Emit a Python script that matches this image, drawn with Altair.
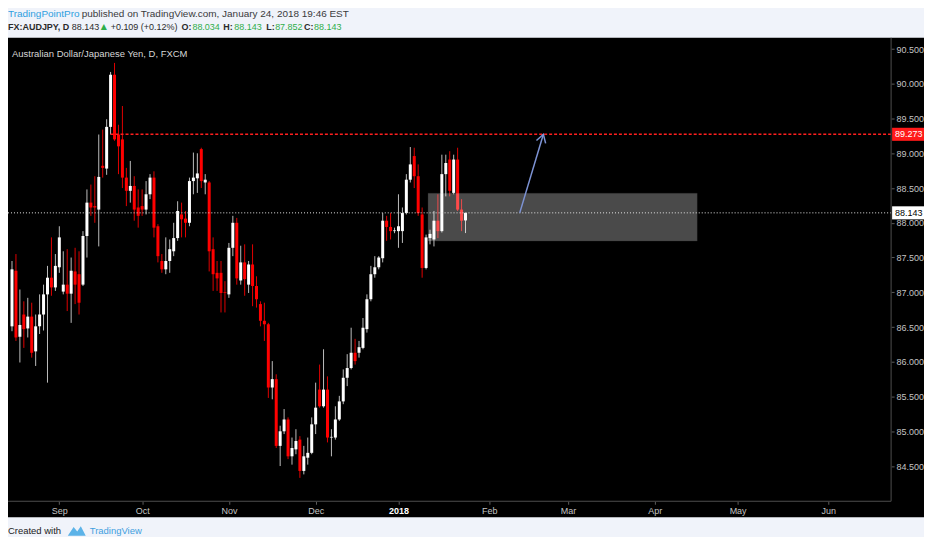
import altair as alt
import pandas as pd

# ---------------- data (AUDJPY daily) ----------------
opens = [86.51, 87.31, 86.36, 86.68, 86.48, 86.65, 86.15, 86.51, 86.68, 86.97,
         87.21, 87.07, 87.36, 87.01, 87.11, 86.98, 87.30, 87.26, 87.11, 87.81,
         88.29, 88.24, 88.19, 88.82, 88.78, 89.38, 90.13, 89.27, 89.20, 88.65,
         88.46, 88.53, 88.22, 88.24, 88.19, 88.41, 88.65, 87.95, 87.45, 87.33,
         87.45, 87.59, 87.78, 88.12, 88.06, 88.00, 88.60, 88.64, 89.06, 88.58,
         88.58, 87.62, 87.28, 87.28, 87.00, 86.97, 87.64, 88.00, 87.17, 87.43,
         87.11, 87.40, 87.09, 86.83, 86.59, 86.54, 85.63, 85.75, 84.79, 85.00,
         85.17, 84.64, 84.74, 84.88, 84.43, 84.62, 84.69, 85.10, 85.60, 85.36,
         85.60, 84.91, 84.91, 85.17, 85.43, 85.77, 85.91, 86.13, 86.13, 86.20,
         86.47, 86.90, 87.26, 87.36, 87.49, 88.03, 87.94, 87.88, 87.88, 87.88,
         88.14, 88.62, 88.96, 88.67, 88.12, 87.35, 87.78, 87.76, 88.03, 87.88,
         88.70, 88.91, 88.43, 88.91, 88.19, 88.034]
highs = [87.45, 87.55, 87.04, 86.87, 86.92, 86.85, 86.68, 86.97, 87.11, 87.38,
         87.79, 87.55, 87.95, 87.59, 87.62, 87.50, 87.64, 87.59, 87.88, 88.48,
         88.55, 88.67, 89.27, 89.34, 89.49, 90.17, 90.30, 89.41, 89.68, 88.79,
         88.89, 88.67, 88.48, 88.48, 88.60, 88.70, 88.74, 87.98, 87.55, 87.79,
         87.76, 88.00, 88.31, 88.29, 88.17, 88.65, 89.01, 89.00, 89.08, 88.70,
         88.60, 87.79, 87.45, 87.45, 87.16, 87.71, 88.10, 88.07, 87.67, 87.69,
         87.45, 87.69, 87.23, 86.87, 86.85, 86.56, 86.01, 85.82, 85.08, 85.32,
         85.20, 84.91, 85.03, 84.93, 84.79, 84.91, 85.20, 85.70, 85.96, 86.18,
         85.79, 85.03, 85.36, 85.51, 85.89, 86.11, 86.49, 86.33, 86.30, 86.63,
         86.97, 87.38, 87.52, 87.52, 88.14, 88.10, 88.14, 87.93, 88.41, 88.22,
         88.70, 89.09, 89.08, 88.84, 88.22, 87.83, 87.90, 88.17, 88.41, 88.98,
         88.98, 89.03, 88.98, 89.08, 88.34, 88.143]
lows = [86.44, 86.30, 85.99, 86.20, 86.35, 86.06, 85.94, 86.40, 86.45, 85.70,
        86.95, 87.02, 87.28, 86.97, 86.73, 86.56, 86.83, 86.68, 87.09, 87.50,
        88.10, 88.00, 87.66, 88.65, 88.69, 89.27, 89.18, 88.70, 88.50, 88.24,
        88.29, 88.03, 87.93, 88.10, 88.12, 88.34, 87.79, 87.43, 87.28, 87.26,
        87.28, 87.52, 87.74, 87.79, 87.79, 87.95, 88.41, 88.43, 88.50, 88.41,
        87.30, 87.02, 87.02, 86.71, 86.71, 86.92, 87.52, 87.11, 87.11, 86.95,
        86.99, 86.80, 86.78, 86.51, 86.30, 85.48, 85.46, 84.76, 84.50, 84.96,
        84.60, 84.52, 84.67, 84.33, 84.38, 84.52, 84.67, 84.96, 85.34, 85.34,
        84.84, 84.64, 84.88, 85.15, 85.39, 85.65, 85.89, 85.96, 86.06, 86.18,
        86.42, 86.87, 87.21, 87.33, 87.43, 87.74, 87.76, 87.85, 87.64, 87.71,
        88.12, 88.58, 88.50, 88.10, 87.21, 87.33, 87.69, 87.66, 87.78, 87.86,
        88.38, 88.38, 88.41, 88.17, 87.88, 87.852]
closes = [87.33, 86.35, 86.53, 86.47, 86.65, 86.13, 86.51, 86.68, 86.97, 87.21,
          87.07, 87.38, 87.79, 87.11, 86.98, 87.31, 87.11, 86.85, 87.81, 88.29,
          88.22, 88.22, 88.66, 88.79, 89.38, 90.13, 89.20, 89.10, 88.65, 88.46,
          88.53, 88.19, 88.10, 88.19, 88.41, 88.65, 87.93, 87.52, 87.33, 87.45,
          87.62, 87.78, 88.17, 88.05, 88.00, 88.60, 88.65, 88.71, 88.60, 88.62,
          87.59, 87.26, 87.20, 86.99, 86.99, 87.64, 88.00, 87.20, 87.43, 87.19,
          87.40, 87.09, 86.90, 86.59, 86.54, 85.63, 85.75, 84.79, 85.00, 85.17,
          84.64, 84.76, 84.86, 84.43, 84.64, 84.69, 85.10, 85.34, 85.36, 85.60,
          84.91, 84.92, 85.17, 85.43, 85.77, 85.91, 86.13, 86.01, 86.21, 86.49,
          86.90, 87.26, 87.36, 87.50, 88.03, 87.94, 87.88, 87.89, 87.95, 88.14,
          88.62, 88.84, 88.67, 88.14, 87.35, 87.79, 87.84, 88.03, 87.88, 88.70,
          88.86, 88.46, 88.91, 88.19, 88.03, 88.143]

# bar index of the first trading day of each month, and its label
month_ticks = [12, 33, 55, 77, 98, 121, 141, 163, 184, 207]
month_labels = ["Sep", "Oct", "Nov", "Dec", "2018", "Feb", "Mar", "Apr", "May", "Jun"]
price_ticks = [84.5, 85.0, 85.5, 86.0, 86.5, 87.0, 87.5, 88.0, 88.5, 89.0, 89.5, 90.0, 90.5]

last_price = 88.143
target_price = 89.273
target_start = 25
zone_x = [105.5, 173.75]
zone_y = [87.737, 88.425]
arrow_x = [128.75, 134.75]
arrow_y = [88.143, 89.273]

# ---------------- styling ----------------
FONT = "Liberation Sans"
W, H = 919, 481
AXIS_X_PX = 886   # right price-scale frame line (view px)
AXIS_Y_PX = 465   # bottom time-scale frame line (view px)

df = pd.DataFrame({"i": list(range(len(opens))), "open": opens, "high": highs,
                   "low": lows, "close": closes})
df["dir"] = ["up" if c >= o else "down" for o, c in zip(opens, closes)]

xs = alt.Scale(domain=[0.25, 230.0], nice=False, zero=False)
ys = alt.Scale(domain=[83.764, 90.662], nice=False, zero=False)

label_test = " : ".join(f"datum.value == {t} ? '{l}'" for t, l in zip(month_ticks, month_labels)) + " : ''"
year_tick = month_ticks[month_labels.index("2018")]

x_axis = alt.Axis(orient="bottom", offset=-(H - AXIS_Y_PX), values=month_ticks,
                  labelExpr=label_test, domain=False, grid=False,
                  tickSize=3, tickColor="#5c5c5c", labelFont=FONT, labelFontSize=9,
                  labelColor={"condition": {"test": f"datum.value == {year_tick}", "value": "#ffffff"},
                              "value": "#c4c4c4"},
                  labelFontWeight={"condition": {"test": f"datum.value == {year_tick}", "value": "bold"},
                                   "value": "normal"},
                  labelPadding=2, labelOverlap=False, labelFlush=False, title=None)
y_axis = alt.Axis(orient="right", offset=-(W - AXIS_X_PX), values=price_ticks, format=".3f",
                  domain=False, grid=False, tickSize=3, tickColor="#5c5c5c",
                  labelFont=FONT, labelFontSize=9, labelColor="#c4c4c4",
                  labelPadding=2, labelOverlap=False, labelFlush=False, title=None)

base = alt.Chart(df)

wicks = base.mark_rule(strokeWidth=1).encode(
    x=alt.X("i:Q", scale=xs, axis=x_axis),
    y=alt.Y("low:Q", scale=ys, axis=y_axis),
    y2="high:Q",
    stroke=alt.Stroke("dir:N", scale=alt.Scale(domain=["up", "down"],
                                               range=["#bdbdbd", "#e00000"]), legend=None),
)
bodies = base.mark_bar(size=3).encode(
    x=alt.X("i:Q", scale=xs),
    y=alt.Y("open:Q", scale=ys),
    y2="close:Q",
    color=alt.Color("dir:N", scale=alt.Scale(domain=["up", "down"],
                                             range=["#ffffff", "#ff0000"]), legend=None),
)

zone = alt.Chart(pd.DataFrame({"x1": [zone_x[0]], "x2": [zone_x[1]],
                               "y1": [zone_y[0]], "y2": [zone_y[1]]})).mark_rect(
    fill="#ffffff", opacity=0.29, stroke="#9a9a9a", strokeOpacity=0.3, strokeWidth=1
).encode(
    x=alt.X("x1:Q", scale=xs), x2="x2:Q",
    y=alt.Y("y1:Q", scale=ys), y2="y2:Q",
)

price_line = alt.Chart(pd.DataFrame({"p": [last_price]})).mark_rule(
    color="#e6e6e6", strokeDash=[1, 2], strokeWidth=1
).encode(y=alt.Y("p:Q", scale=ys), x=alt.value(0), x2=alt.value(AXIS_X_PX))

target_line = alt.Chart(pd.DataFrame({"x1": [target_start], "p": [target_price]})).mark_rule(
    color="#ff1f1f", strokeDash=[3, 2], strokeWidth=1.5
).encode(x=alt.X("x1:Q", scale=xs), x2=alt.value(AXIS_X_PX),
         y=alt.Y("p:Q", scale=ys))

arrow_df = pd.DataFrame({"x": arrow_x, "y": arrow_y})
arrow_shaft = alt.Chart(arrow_df).mark_line(color="#7d93d4", strokeWidth=1.5).encode(
    x=alt.X("x:Q", scale=xs), y=alt.Y("y:Q", scale=ys))
arrow_head = alt.Chart(arrow_df.tail(1)).mark_point(
    shape="M-0.6,1 L0,0 L0.6,1", filled=False, size=256, angle=17,
    color="#7d93d4", strokeWidth=1.5, opacity=1
).encode(x=alt.X("x:Q", scale=xs), y=alt.Y("y:Q", scale=ys))

one = alt.Data(values=[{}])
frame_v = alt.Chart(one).mark_rule(color="#4d4d4d", strokeWidth=1).encode(
    x=alt.value(AXIS_X_PX), y=alt.value(0), y2=alt.value(AXIS_Y_PX))
frame_h = alt.Chart(one).mark_rule(color="#4d4d4d", strokeWidth=1).encode(
    x=alt.value(0), x2=alt.value(AXIS_X_PX), y=alt.value(AXIS_Y_PX))


def price_tag(p, bg, fg):
    d = pd.DataFrame({"p": [p], "t": [f"{p:.3f}"]})
    box = alt.Chart(d).transform_calculate(
        top="datum.p + 0.094", bot="datum.p - 0.094"
    ).mark_rect(fill=bg).encode(
        x=alt.value(AXIS_X_PX + 1), x2=alt.value(W),
        y=alt.Y("top:Q", scale=ys), y2="bot:Q")
    txt = alt.Chart(d).mark_text(align="left", baseline="middle", font=FONT,
                                 fontSize=9, color=fg).encode(
        x=alt.value(AXIS_X_PX + 4), y=alt.Y("p:Q", scale=ys), text="t:N")
    return [box, txt]


def text(t, x, y, color, size=9, weight="normal", font=FONT):
    return alt.Chart(one).mark_text(text=t, align="left", baseline="middle",
                                    fontSize=size, fontWeight=weight, font=font,
                                    color=color).encode(x=alt.value(x), y=alt.value(y))


GREEN = "#2fae4a"
DARK = "#2b2b2b"
L1, L2 = -24, -11
texts = [
    text("TradingPointPro", 0, L1, "#2f9fe0", 10),
    text("published on TradingView.com, January 24, 2018 19:46 EST", 74, L1, "#3a3a3a", 10),
    text("FX:AUDJPY, D", 0, L2, DARK, 9, "bold"),
    text(f"{last_price:.3f}", 64, L2, DARK, 9),
    text("▲", 93, L2, GREEN, 8, font="DejaVu Sans"),
    text("+0.109 (+0.12%)", 103, L2, DARK, 9),
    text("O:", 174, L2, DARK, 9, "bold"),
    text(f"{opens[-1]:.3f}", 185, L2, GREEN, 9),
    text("H:", 216, L2, DARK, 9, "bold"),
    text(f"{highs[-1]:.3f}", 227, L2, GREEN, 9),
    text("L:", 259, L2, DARK, 9, "bold"),
    text(f"{lows[-1]:.3f}", 268, L2, GREEN, 9),
    text("C:", 297, L2, DARK, 9, "bold"),
    text(f"{closes[-1]:.3f}", 307, L2, GREEN, 9),
    text("Australian Dollar/Japanese Yen, D, FXCM", 4, 16, "#d6d6d6", 9.5),
    text("Created with", 0, 495, "#222222", 9.5),
    text("TradingView", 82, 495, "#3fa0e0", 9.5),
]
logo = alt.Chart(one).mark_point(
    shape="M-1,0.5 L-0.35,-0.45 L0.05,0.05 L0.45,-0.55 L1,0.5 Z",
    filled=True, size=324, color="#5cb3e8", opacity=1
).encode(x=alt.value(69), y=alt.value(495))

layers = [wicks, bodies, zone, price_line, target_line, arrow_shaft, arrow_head,
          frame_v, frame_h] + price_tag(target_price, "#ff1a1a", "#ffffff") \
    + price_tag(last_price, "#ffffff", "#000000") + texts + [logo]

chart = alt.layer(*layers).resolve_scale(color="independent", stroke="independent").properties(
    width=W, height=H, autosize="none",
    padding={"left": 0, "top": 29, "right": 0, "bottom": 19},
    background="#f0f3fa",
).configure_view(fill="#000000", stroke=None)

chart.save("out.html", embed_options={"renderer": "svg", "actions": False})
